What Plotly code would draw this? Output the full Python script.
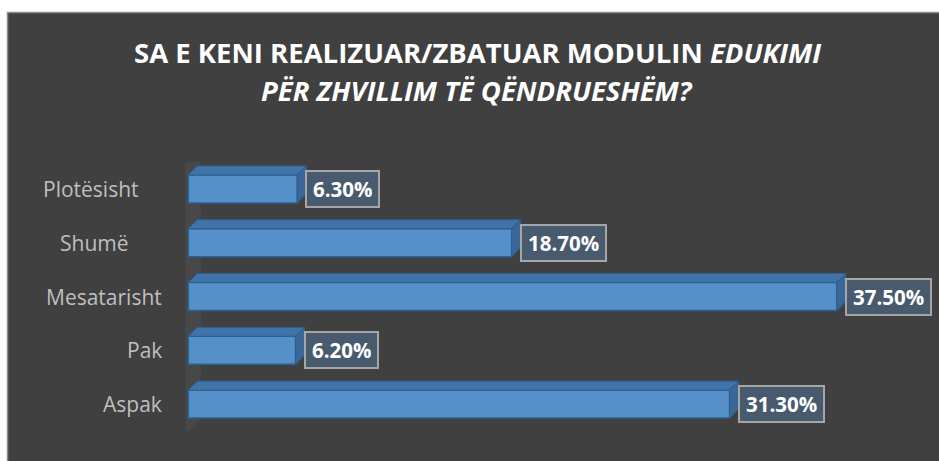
import plotly.graph_objects as go

categories = ["Plotësisht", "Shumë", "Mesatarisht", "Pak", "Aspak"]
values = [6.3, 18.7, 37.5, 6.2, 31.3]
labels = ["6.30%", "18.70%", "37.50%", "6.20%", "31.30%"]
title_line1 = "SA E KENI REALIZUAR/ZBATUAR MODULIN <i>EDUKIMI</i>"
title_line2 = "<i>PËR ZHVILLIM TË QËNDRUESHËM?</i>"

# right edge (px) of each category label, as laid out in the original
label_right_px = [141, 131, 164, 164, 164]

W, H = 939, 461
L, R, T, B = 171, 19, 162, 30
PW, PH = W - L - R, H - T - B
XMAX = 42.31
XMIN = -1.0
pos = list(range(len(categories)))

def px_x(px):
    return (px - L) / PW

def px_y(py):
    return (H - B - py) / PH

bw = 0.52
dx = 9 / (PW / (XMAX - XMIN))
dy = 9 / (PH / 5.0)

FONT = "Open Sans"
BG = "#404040"

fig = go.Figure()

# front faces
fig.add_trace(go.Bar(
    x=values, y=pos, orientation="h", width=bw,
    marker=dict(color="#5690c9", line=dict(color="#2c5f92", width=1.5)),
    showlegend=False, hoverinfo="skip"))

# top and side faces
tx, ty = [], []
sx, sy = [], []
for p, v in zip(pos, values):
    y0 = p - bw / 2
    tx += [0, v, v + dx, dx, 0, None]
    ty += [y0, y0, y0 - dy, y0 - dy, y0, None]
    y1 = p + bw / 2
    sx += [v, v + dx, v + dx, v, v, None]
    sy += [y0, y0 - dy, y1 - dy, y1, y0, None]
fig.add_trace(go.Scatter(
    x=tx, y=ty, fill="toself", fillcolor="#4074a8",
    line=dict(color="#2c5f92", width=1), mode="lines",
    hoverinfo="skip", showlegend=False))
fig.add_trace(go.Scatter(
    x=sx, y=sy, fill="toself", fillcolor="#3a6797",
    line=dict(color="#2c5f92", width=1), mode="lines",
    hoverinfo="skip", showlegend=False))

# data labels
for p, v, t in zip(pos, values, labels):
    fig.add_annotation(
        x=v, y=p, xref="x", yref="y", text="<b>" + t + "</b>",
        showarrow=False, xanchor="left", yanchor="middle", xshift=8,
        font=dict(family=FONT, size=20.5, color="white"),
        bgcolor="#475a6e", bordercolor="#a6a6a6", borderwidth=2,
        borderpad=6, height=22)

# category labels
for p, c, rpx in zip(pos, categories, label_right_px):
    fig.add_annotation(
        x=px_x(rpx), y=p, xref="paper", yref="y", text=c,
        showarrow=False, xanchor="right", yanchor="middle",
        font=dict(family=FONT, size=21, color="#bfbfbf"))

# title
fig.add_annotation(
    x=px_x(477), y=px_y(53), xref="paper", yref="paper",
    text="<b>" + title_line1 + "</b>", showarrow=False,
    xanchor="center", yanchor="middle",
    font=dict(family=FONT, size=27.5, color="white"))
fig.add_annotation(
    x=px_x(477), y=px_y(91), xref="paper", yref="paper",
    text="<b>" + title_line2 + "</b>", showarrow=False,
    xanchor="center", yanchor="middle",
    font=dict(family=FONT, size=27.5, color="white"))

# background panel
fig.add_shape(type="rect", xref="paper", yref="paper",
              x0=px_x(7), x1=px_x(W + 20), y0=px_y(H + 20), y1=px_y(12),
              fillcolor=BG, line=dict(width=0), layer="below")
fig.add_shape(type="path", xref="paper", yref="paper",
              path="M %f %f L %f %f L %f %f" % (px_x(7.5), px_y(H + 20),
                                                px_x(7.5), px_y(12.5),
                                                px_x(W + 20), px_y(12.5)),
              line=dict(color="#8c8c8c", width=1.5), layer="below")
# back wall of the 3D chart
fig.add_shape(type="path", xref="x", yref="y",
              path="M -0.17 -0.78 L 0.72 -0.9 L 0.72 4.3 L -0.17 4.55 Z",
              fillcolor="#484848", line=dict(width=0), layer="below")

fig.update_layout(
    width=W, height=H,
    margin=dict(l=L, r=R, t=T, b=B, pad=0),
    paper_bgcolor="white", plot_bgcolor="rgba(0,0,0,0)",
    barmode="overlay",
    xaxis=dict(range=[XMIN, XMAX], visible=False, fixedrange=True),
    yaxis=dict(range=[4.5, -0.5], showticklabels=False, showgrid=False,
               zeroline=False, showline=False, ticks="", fixedrange=True),
    showlegend=False,
)

fig.write_html("out.html", config={"displayModeBar": False},
               post_script="document.body.style.margin='0';"
                           "document.body.style.overflow='hidden';"
                           "document.body.style.background='#404040';")
